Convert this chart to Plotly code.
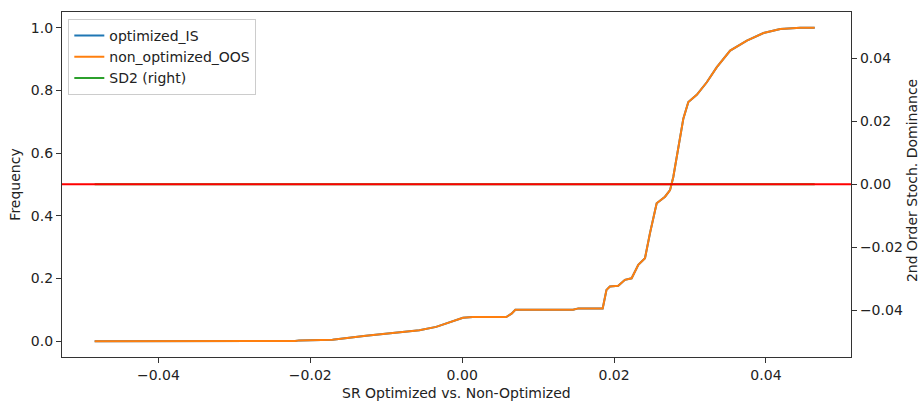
import plotly.graph_objects as go

# SR difference (x) and cumulative frequency (y)
sr_diff = [-0.0484, -0.0300, -0.0220, -0.02145, -0.01708, -0.01267, -0.00828, -0.00564,
           -0.00343, -0.00168, 0.0001, 0.0014, 0.0058, 0.0065, 0.0070, 0.0146, 0.0153,
           0.0185, 0.0190, 0.01945, 0.02055, 0.02143, 0.02231, 0.02319, 0.02407, 0.02473,
           0.02561, 0.02671, 0.02737, 0.0278, 0.02825, 0.02912, 0.02978, 0.03089, 0.03221,
           0.03353, 0.03529, 0.03749, 0.03968, 0.04189, 0.04453, 0.04642]
freq = [0.0, 0.0, 0.001, 0.003, 0.005, 0.018, 0.030, 0.035,
        0.046, 0.060, 0.075, 0.0776, 0.0776, 0.088, 0.1008, 0.1008, 0.105,
        0.105, 0.164, 0.175, 0.177, 0.196, 0.201, 0.244, 0.265, 0.345,
        0.440, 0.461, 0.482, 0.524, 0.588, 0.710, 0.763, 0.786, 0.826,
        0.874, 0.927, 0.959, 0.983, 0.996, 1.0, 1.0]
optimized_is = freq
non_optimized_oos = freq
sd2 = [0.0 for _ in sr_diff]

x_ticks = [-0.04, -0.02, 0.0, 0.02, 0.04]
x_labels = ["\u22120.04", "\u22120.02", "0.00", "0.02", "0.04"]
y_ticks = [0, 0.2, 0.4, 0.6, 0.8, 1.0]
y_labels = ["0.0", "0.2", "0.4", "0.6", "0.8", "1.0"]
y2_ticks = [-0.04, -0.02, 0.0, 0.02, 0.04]
y2_labels = ["\u22120.04", "\u22120.02", "0.00", "0.02", "0.04"]

FONT = "DejaVu Sans"
FS = 14
AX = "#333333"
TXT = "#222222"

fig = go.Figure()
fig.add_trace(go.Scatter(x=sr_diff, y=optimized_is, mode="lines", name="optimized_IS",
                         line=dict(color="#1f77b4", width=2)))
fig.add_trace(go.Scatter(x=sr_diff, y=non_optimized_oos, mode="lines", name="non_optimized_OOS",
                         line=dict(color="#ff7f0e", width=2)))
fig.add_trace(go.Scatter(x=sr_diff, y=sd2, mode="lines", name="SD2 (right)", yaxis="y2",
                         line=dict(color="#2ca02c", width=2)))

fig.add_shape(type="line", xref="paper", x0=0, x1=1, yref="y2", y0=0, y1=0,
              line=dict(color="red", width=2), layer="above")

axis_common = dict(showline=True, linecolor=AX, linewidth=1.2, ticks="outside",
                   ticklen=5, tickcolor=AX, showgrid=False, zeroline=False,
                   automargin=False,
                   tickfont=dict(family=FONT, size=FS, color=TXT))

# axis titles for x and right y placed as annotations (fixed offsets from the plot area)
fig.add_annotation(text="SR Optimized vs. Non-Optimized", xref="paper", yref="paper",
                   x=0.5, y=0, xanchor="center", yanchor="middle", yshift=-36,
                   showarrow=False, font=dict(family=FONT, size=FS, color=TXT))
fig.add_annotation(text="2nd Order Stoch. Dominance", xref="paper", yref="paper",
                   x=1, y=0.51, xanchor="center", yanchor="middle", xshift=61,
                   textangle=-90, showarrow=False, font=dict(family=FONT, size=FS, color=TXT))

fig.update_layout(
    width=920, height=403,
    margin=dict(l=62, r=69, t=12, b=46),
    plot_bgcolor="white", paper_bgcolor="white",
    font=dict(family=FONT, size=FS, color=TXT),
    xaxis=dict(range=[-0.0527, 0.0512], tickvals=x_ticks, ticktext=x_labels,
               mirror=True, **axis_common),
    yaxis=dict(range=[-0.05, 1.05], tickvals=y_ticks, ticktext=y_labels,
               mirror=True,
               title=dict(text="Frequency", standoff=6, font=dict(family=FONT, size=FS)),
               **axis_common),
    yaxis2=dict(range=[-0.0548, 0.0547], overlaying="y", side="right",
                tickvals=y2_ticks, ticktext=y2_labels, **axis_common),
    legend=dict(x=0.008, y=0.98, xanchor="left", yanchor="top",
                bgcolor="rgba(255,255,255,0.8)", bordercolor="#cccccc", borderwidth=1,
                font=dict(family=FONT, size=FS, color=TXT)),
    showlegend=True,
)

# remove the browser's default 8px body margin so the figure fills the window exactly
fig.write_html("out.html", config={"displayModeBar": False},
               post_script="document.body.style.margin='0px';document.body.style.overflow='hidden';")
